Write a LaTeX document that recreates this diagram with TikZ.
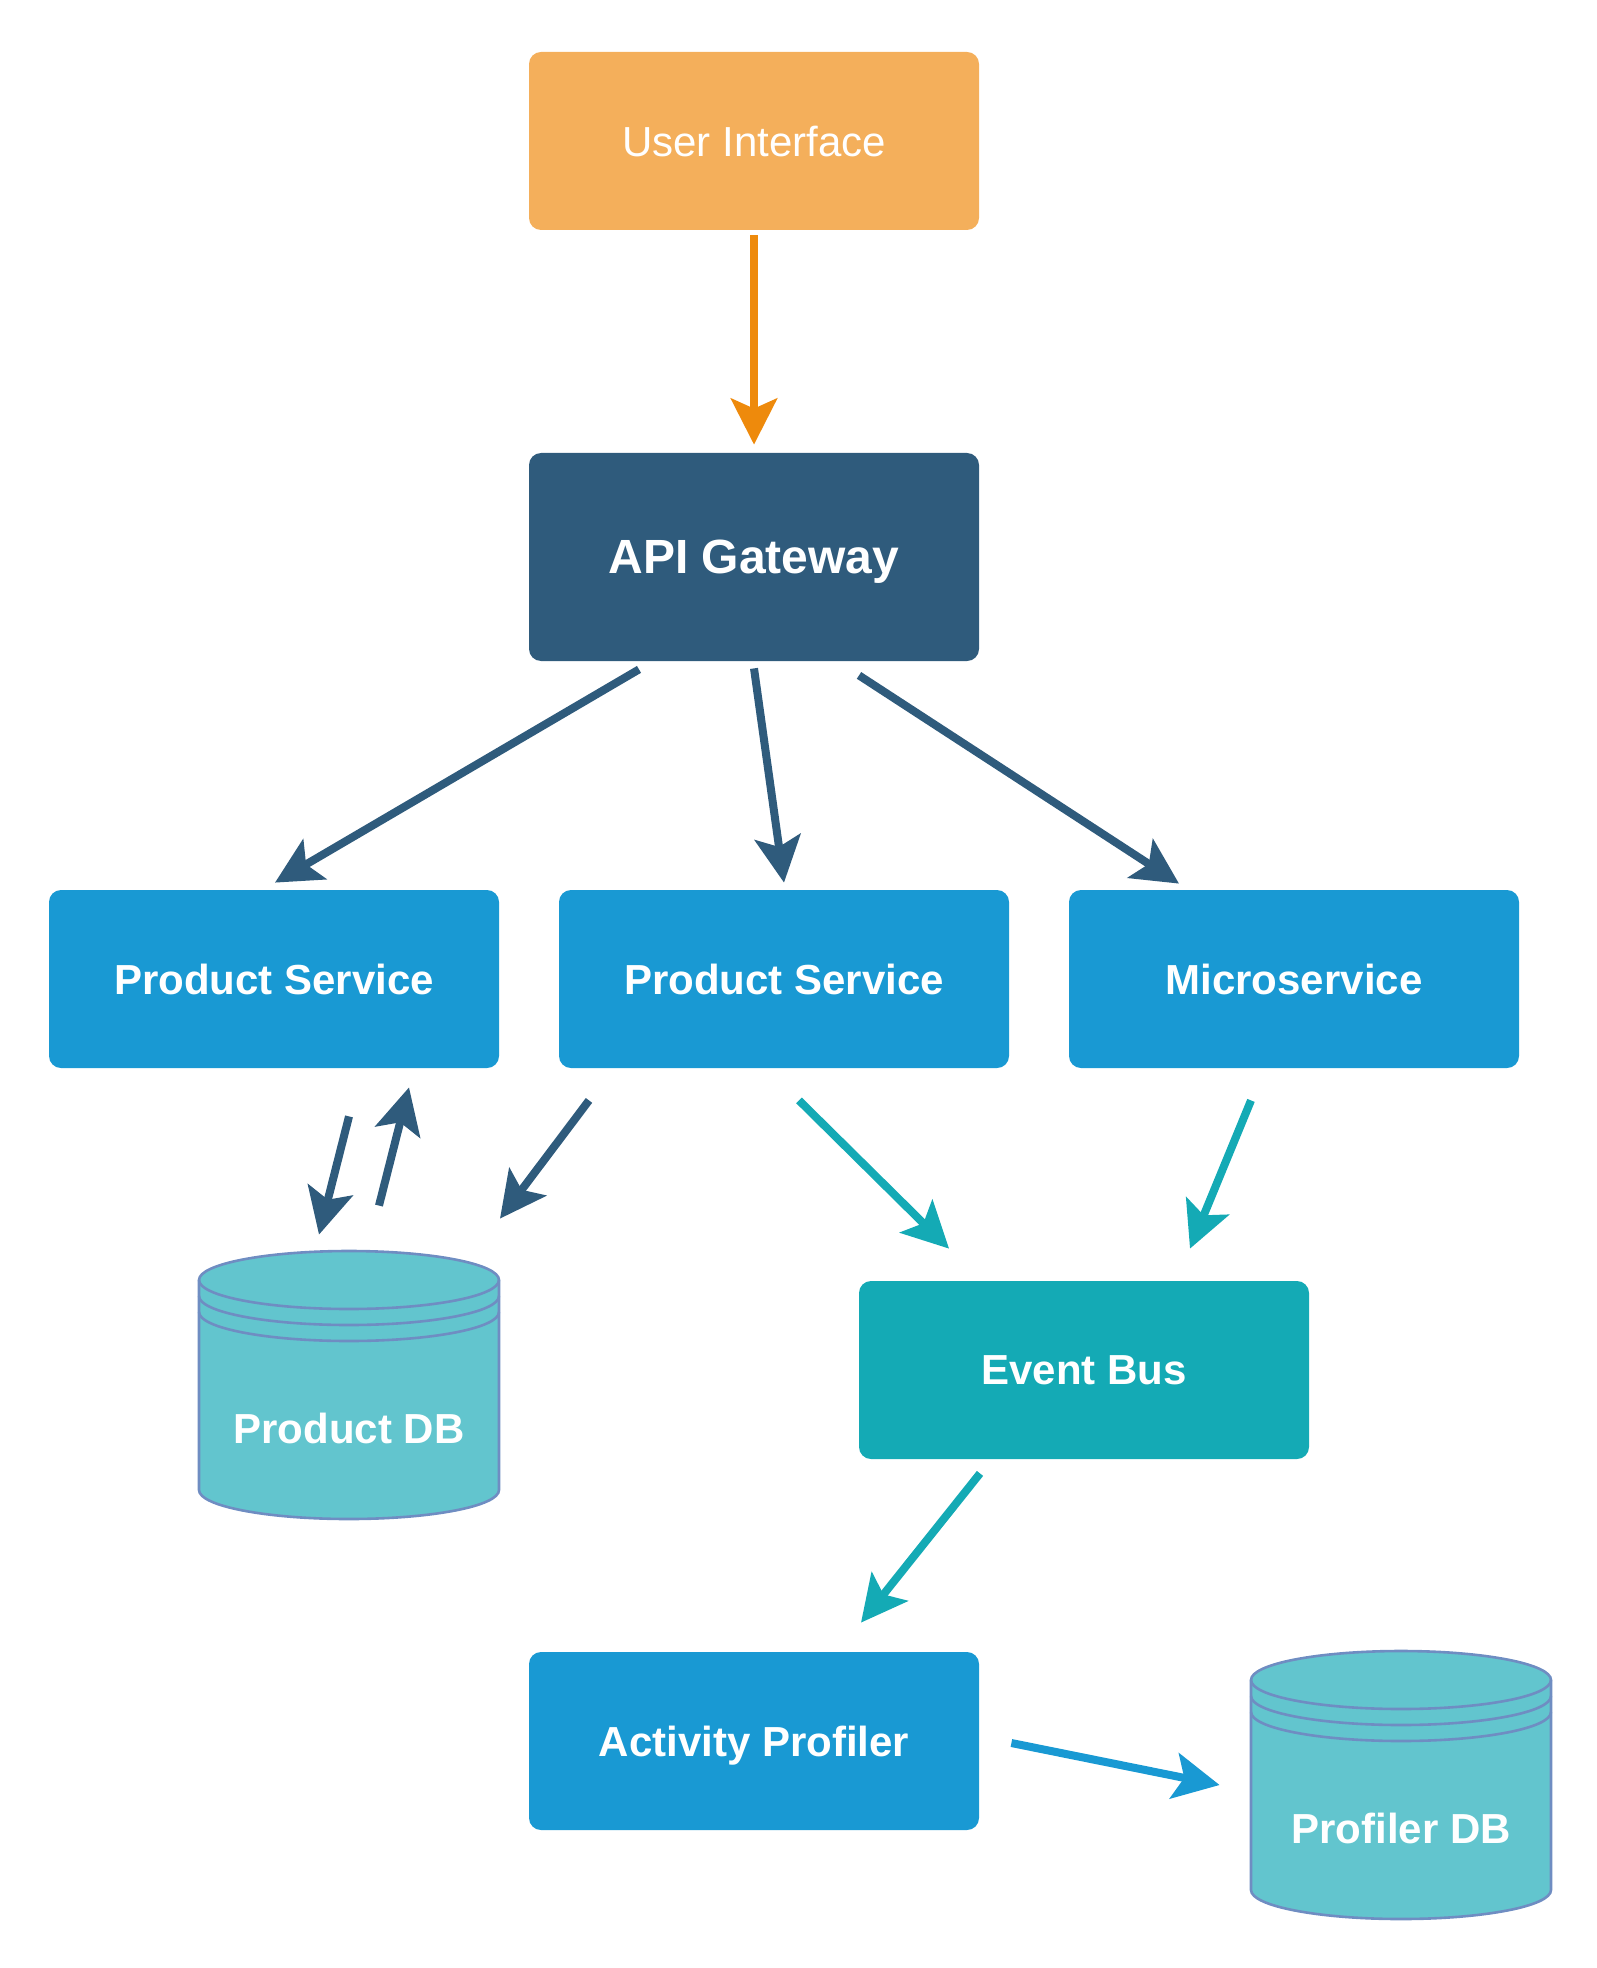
\documentclass[tikz,border=0pt]{standalone}
\usepackage{fontspec}
\setmainfont{Liberation Sans}
\usetikzlibrary{arrows.meta, calc}

\definecolor{uiFill}{HTML}{F4AF5B}
\definecolor{uiArrow}{HTML}{EE8A0C}
\definecolor{gwFill}{HTML}{2F5B7C}
\definecolor{svcFill}{HTML}{1999D3}
\definecolor{busFill}{HTML}{14AAB5}
\definecolor{dbFill}{HTML}{62C5CE}
\definecolor{dbEdge}{HTML}{6F8DC2}

\begin{document}
\begin{tikzpicture}[x=0.5pt, y=-0.5pt,
        box/.style={rectangle, rounded corners=6pt, minimum width=225pt, minimum height=89pt,
            inner sep=0pt, text depth=0pt, text=white, font=\fontsize{21}{25}\selectfont\bfseries},
        svc/.style={box, fill=svcFill},
        conn/.style={line width=4pt, -{Stealth[length=23pt, width=23pt, inset=5pt]}},
        dbLine/.style={draw=dbEdge, line width=1.3pt},
        dbBox/.style={rectangle, minimum width=150pt, minimum height=134pt, inner sep=0pt},
        dbText/.style={text=white, text depth=0pt, font=\fontsize{21}{25}\selectfont\bfseries, inner sep=0pt}]
        \useasboundingbox (0,0) rectangle (1596,1968);
        \pgfmathsetmacro{\dbW}{150}
        \pgfmathsetmacro{\dbH}{105}

        \node[box, fill=uiFill, font=\fontsize{21}{25}\selectfont] (ui) at (754,141) {User Interface};
        \node[box, fill=gwFill, minimum height=104pt, font=\fontsize{24}{28}\selectfont\bfseries] (api) at (754,557) {API Gateway};
        \node[svc] (ps1) at (274,979) {Product Service};
        \node[svc] (ps2) at (784,979) {Product Service};
        \node[svc] (ms) at (1294,979) {Microservice};
        \node[box, fill=busFill] (bus) at (1084,1370) {Event Bus};
        \node[svc] (prof) at (754,1741) {Activity Profiler};

        % the two databases
        \foreach \nev/\x/\y/\felirat in {pdb/349/1385/Product DB, fdb/1401/1785/Profiler DB} {
        \node[dbBox] (\nev) at (\x,\y) {};
        \filldraw[dbLine, fill=dbFill] (\x-\dbW,\y-\dbH) -- (\x-\dbW,\y+\dbH)
        arc[start angle=180, end angle=360, x radius=75pt, y radius=14.5pt]
        -- (\x+\dbW,\y-\dbH)
        arc[start angle=0, end angle=180, x radius=75pt, y radius=14.5pt] -- cycle;
        \foreach \d in {0, 16, 32} {
        \draw[dbLine] (\x-\dbW,\y-\dbH+\d) arc[start angle=180, end angle=360, x radius=75pt, y radius=14.5pt];
        }
        \node[dbText] (\nev Text) at (\x,\y+43) {\felirat};
        }

        \draw[conn, uiArrow] ($(ui.south)+(0,5)$) -- ($(api.north)+(0,-8)$);
        \draw[conn, gwFill] ($(api.south)+(-115,8)$) -- ($(ps1.north)+(1,-7)$);
        \draw[conn, gwFill] ($(api.south)+(0,7)$) -- ($(ps2.north)+(0,-7)$);
        \draw[conn, gwFill] ($(api.south)+(105,14)$) -- ($(ms.north)+(-115,-6)$);

        \draw[conn, gwFill] ($(ps1.south)+(75,48)$) -- ($(pdb.north)+(-30,-16)$);
        \draw[conn, gwFill] ($(pdb.north)+(30,-45)$) -- ($(ps1.south)+(135,19)$);
        \draw[conn, gwFill] ($(ps2.south)+(-195,32)$) -- ($(pdb.north)+(151,-32)$);

        \draw[conn, busFill] ($(ps2.south)+(15,32)$) -- ($(bus.north)+(-135,-32)$);
        \draw[conn, busFill] ($(ms.south)+(-43,32)$) -- ($(bus.north)+(106,-32)$);
        \draw[conn, busFill] ($(bus.south)+(-104,14)$) -- ($(prof.north)+(107,-29)$);

        \draw[conn, svcFill] ($(prof.east)+(32,2)$) -- ($(fdb.west)+(-31,0)$);
    \end{tikzpicture}
\end{document}
